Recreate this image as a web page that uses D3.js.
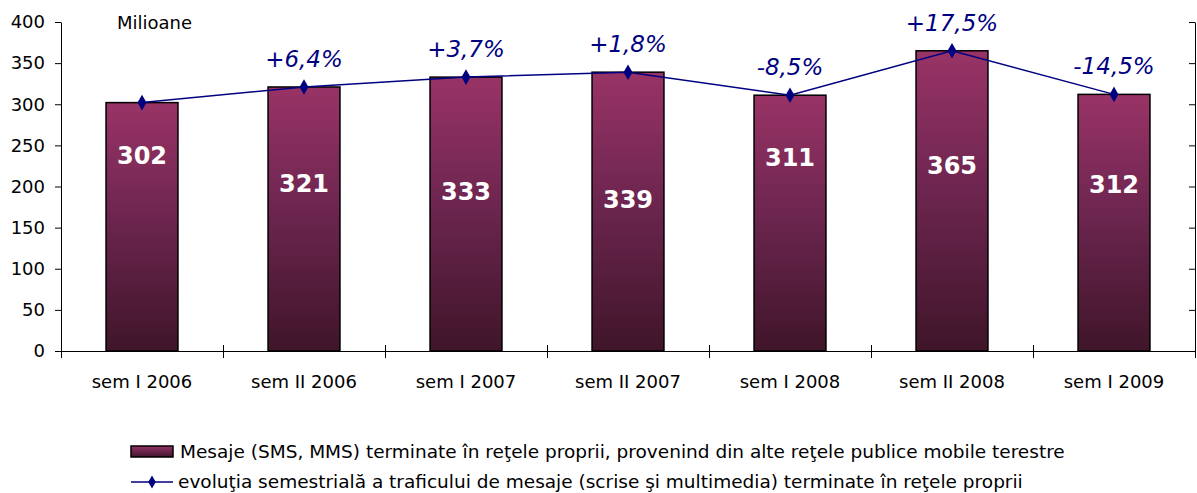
<!DOCTYPE html>
<html>
<head>
<meta charset="utf-8">
<script src="https://cdn.jsdelivr.net/npm/d3@7"></script>
<style>
  body { margin: 0; background: #fff; }
  text { font-family: "DejaVu Sans", sans-serif; }
</style>
</head>
<body>
<div id="container"></div>
<script>
const categories = ['sem I 2006', 'sem II 2006', 'sem I 2007', 'sem II 2007', 'sem I 2008', 'sem II 2008', 'sem I 2009'];
const messages = [302, 321, 333, 339, 311, 365, 312];
const growthLabels = ['', '+6,4%', '+3,7%', '+1,8%', '-8,5%', '+17,5%', '-14,5%'];
const yTicks = [0, 50, 100, 150, 200, 250, 300, 350, 400];
const legendLabels = [
  'Mesaje (SMS, MMS) terminate în reţele proprii, provenind din alte reţele publice mobile terestre',
  'evoluţia semestrială a traficului de mesaje (scrise şi multimedia) terminate în reţele proprii'
];

const width = 1197, height = 493;
const plot = { left: 61, right: 1195, top: 22, bottom: 351 };

const svg = d3.select('#container')
  .append('svg')
  .attr('width', width)
  .attr('height', height);

const defs = svg.append('defs');
const grad = defs.append('linearGradient')
  .attr('id', 'barGrad')
  .attr('x1', 0).attr('y1', 0).attr('x2', 0).attr('y2', 1);
grad.append('stop').attr('offset', '0%').attr('stop-color', '#993366');
grad.append('stop').attr('offset', '45%').attr('stop-color', '#6e2650');
grad.append('stop').attr('offset', '100%').attr('stop-color', '#3f1529');

const x = d3.scaleBand()
  .domain(categories)
  .range([plot.left, plot.right])
  .paddingInner(0.556)
  .paddingOuter(0.278);

const y = d3.scaleLinear()
  .domain([0, 400])
  .range([plot.bottom, plot.top]);

// category boundaries for the x tick marks
const xb = d3.scaleLinear().domain([0, categories.length]).range([plot.left, plot.right]);

// left axis
svg.append('g')
  .attr('class', 'y-axis')
  .attr('transform', `translate(${plot.left},0)`)
  .call(d3.axisLeft(y).tickValues(yTicks).tickSize(6).tickSizeOuter(0).tickPadding(10))
  .call(g => g.selectAll('text').style('font-size', '18px').attr('fill', '#000'))
  .call(g => g.selectAll('line, path').attr('stroke', '#000'));

// right axis, ticks only
svg.append('g')
  .attr('class', 'y-axis-right')
  .attr('transform', `translate(${plot.right},0)`)
  .call(d3.axisLeft(y).tickValues(yTicks).tickSize(6).tickSizeOuter(0).tickFormat(''))
  .call(g => g.selectAll('line, path').attr('stroke', '#000'));

// bars
svg.append('g')
  .selectAll('rect')
  .data(messages)
  .join('rect')
  .attr('x', (d, i) => x(categories[i]))
  .attr('y', d => y(d))
  .attr('width', x.bandwidth())
  .attr('height', d => y(0) - y(d))
  .attr('fill', 'url(#barGrad)')
  .attr('stroke', '#000')
  .attr('stroke-width', 1.5);

// x axis, tick marks crossing the line at category boundaries
svg.append('g')
  .attr('class', 'x-axis')
  .attr('transform', `translate(0,${plot.bottom})`)
  .call(d3.axisBottom(xb).tickValues(d3.range(0, categories.length + 1)).tickSize(7).tickSizeOuter(0).tickFormat(''))
  .call(g => g.selectAll('.tick line').attr('y1', -6))
  .call(g => g.selectAll('line, path').attr('stroke', '#000'));

svg.append('g')
  .selectAll('text')
  .data(categories)
  .join('text')
  .attr('x', d => x(d) + x.bandwidth() / 2)
  .attr('y', plot.bottom + 37)
  .attr('text-anchor', 'middle')
  .style('font-size', '18px')
  .text(d => d);

// value labels inside bars (levels)
const labelLevel = [238, 204, 194, 184, 235, 225, 202];
svg.append('g')
  .selectAll('text')
  .data(messages)
  .join('text')
  .attr('x', (d, i) => x(categories[i]) + x.bandwidth() / 2)
  .attr('y', (d, i) => y(labelLevel[i]))
  .attr('dy', '0.35em')
  .attr('text-anchor', 'middle')
  .attr('fill', '#fff')
  .style('font-size', '24px')
  .style('font-weight', 'bold')
  .text(d => d);

// growth line
const line = d3.line()
  .x((d, i) => x(categories[i]) + x.bandwidth() / 2)
  .y(d => y(d));

svg.append('path')
  .datum(messages)
  .attr('fill', 'none')
  .attr('stroke', '#000080')
  .attr('stroke-width', 1.5)
  .attr('d', line);

const diamond = d3.symbol().type(d3.symbolDiamond).size(70);
svg.append('g')
  .selectAll('path')
  .data(messages)
  .join('path')
  .attr('transform', (d, i) => `translate(${x(categories[i]) + x.bandwidth() / 2},${y(d)})`)
  .attr('d', diamond)
  .attr('fill', '#000080');

svg.append('g')
  .selectAll('text')
  .data(messages)
  .join('text')
  .attr('x', (d, i) => x(categories[i]) + x.bandwidth() / 2)
  .attr('y', d => y(d) - 20)
  .attr('text-anchor', 'middle')
  .attr('fill', '#000080')
  .style('font-size', '23px')
  .style('font-style', 'italic')
  .text((d, i) => growthLabels[i]);

// unit label
svg.append('text')
  .attr('x', 117)
  .attr('y', 29)
  .style('font-size', '18px')
  .text('Milioane');

// legend
const legend = svg.append('g').attr('class', 'legend');
legend.append('rect')
  .attr('x', 131).attr('y', 446)
  .attr('width', 42).attr('height', 11)
  .attr('fill', 'url(#barGrad)')
  .attr('stroke', '#000')
  .attr('stroke-width', 1.5);
legend.append('line')
  .attr('x1', 131).attr('x2', 173)
  .attr('y1', 482).attr('y2', 482)
  .attr('stroke', '#000080')
  .attr('stroke-width', 1.5);
legend.append('path')
  .attr('transform', 'translate(152,482)')
  .attr('d', d3.symbol().type(d3.symbolDiamond).size(50))
  .attr('fill', '#000080');
legend.selectAll('text.leg')
  .data(legendLabels)
  .join('text')
  .attr('class', 'leg')
  .attr('x', (d, i) => i === 0 ? 180 : 178)
  .attr('y', (d, i) => 458 + i * 30)
  .style('font-size', '18.5px')
  .text(d => d);
</script>
</body>
</html>
